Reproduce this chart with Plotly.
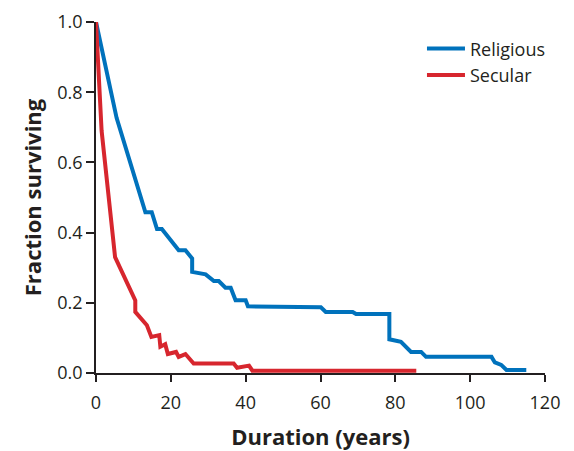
import plotly.graph_objects as go

rel_x = [0, 5.5, 13.2, 14.9, 16.3, 17.6, 22.1, 23.9, 25.7, 25.7, 29.3, 31.5, 32.8, 34.6, 36.0, 37.3, 40.0, 40.6, 60.1, 61.4, 68.6, 69.5, 78.4, 78.4, 81.5, 84.2, 86.9, 88.2, 105.7, 106.6, 108.3, 109.7, 115.0]
rel_y = [1.0, 0.727, 0.458, 0.458, 0.41, 0.41, 0.35, 0.35, 0.326, 0.288, 0.281, 0.262, 0.262, 0.243, 0.243, 0.207, 0.207, 0.19, 0.187, 0.174, 0.174, 0.168, 0.168, 0.096, 0.089, 0.06, 0.06, 0.046, 0.046, 0.03, 0.023, 0.0085, 0.0085]

sec_x = [0, 1.5, 5.1, 10.5, 10.5, 13.6, 14.8, 16.9, 17.2, 18.5, 19.2, 21.4, 22.1, 23.9, 26.1, 36.8, 37.7, 40.9, 41.8, 85.6]
sec_y = [1.0, 0.69, 0.33, 0.207, 0.174, 0.136, 0.103, 0.108, 0.075, 0.082, 0.054, 0.06, 0.046, 0.054, 0.027, 0.027, 0.015, 0.021, 0.0065, 0.0065]

x_ticks = [0, 20, 40, 60, 80, 100, 120]
y_ticks = [0.0, 0.2, 0.4, 0.6, 0.8, 1.0]

BLUE = "#0072bc"
RED = "#d7262e"
FONT = "Open Sans"

fig = go.Figure()
fig.add_trace(go.Scatter(x=rel_x, y=rel_y, mode="lines", name="Religious",
                         line=dict(color=BLUE, width=4)))
fig.add_trace(go.Scatter(x=sec_x, y=sec_y, mode="lines", name="Secular",
                         line=dict(color=RED, width=4)))

fig.update_layout(
    width=574, height=451,
    margin=dict(l=96, r=29, t=22, b=78),
    plot_bgcolor="white", paper_bgcolor="white",
    font=dict(family=FONT, color="#231f20", size=18),
    legend=dict(x=0.726, y=0.976, xanchor="left", yanchor="top",
                font=dict(size=18), bgcolor="rgba(0,0,0,0)",
                tracegroupgap=0, itemwidth=38),
    showlegend=True,
)
fig.update_xaxes(range=[0, 120], tickvals=x_ticks, ticktext=[str(v) for v in x_ticks],
                 showgrid=False, zeroline=False, showline=True, linecolor="#231f20",
                 linewidth=1.5, ticks="outside", ticklen=7, tickwidth=1.5, tickcolor="#231f20",
                 automargin=False, tickfont=dict(size=18), ticklabelstandoff=6,
                 title=dict(text="<b>Duration (years)</b>", font=dict(size=22), standoff=16))
fig.update_yaxes(range=[0, 1.0], tickvals=y_ticks, ticktext=["%.1f" % v for v in y_ticks],
                 showgrid=False, zeroline=False, showline=True, linecolor="#231f20",
                 linewidth=1.5, ticks="outside", ticklen=8, tickwidth=1.5, tickcolor="#231f20",
                 automargin=False, tickfont=dict(size=18),
                 title=dict(text="<b>Fraction surviving</b>", font=dict(size=22), standoff=10))

fig.write_html("out.html", config={"displayModeBar": False},
               post_script="document.body.style.margin='0';")
